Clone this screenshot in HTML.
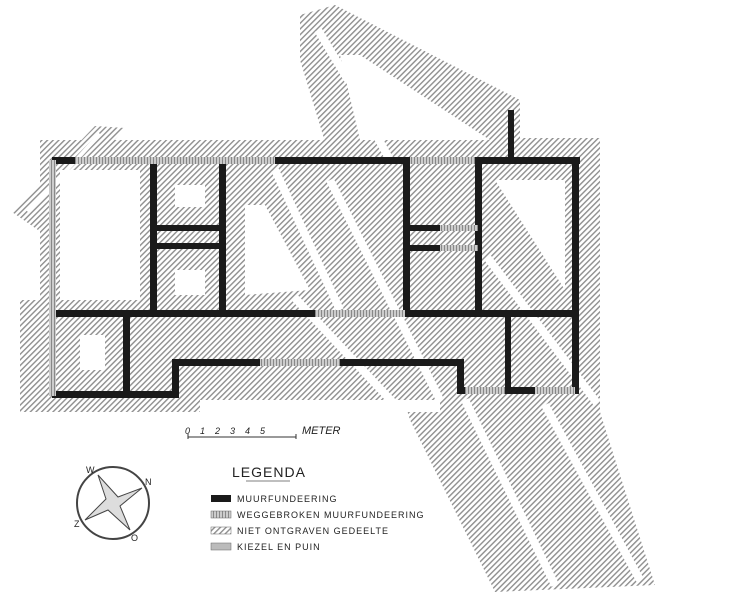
<!DOCTYPE html>
<html><head><meta charset="utf-8"><style>
html,body{margin:0;padding:0;background:#fff;}
svg{display:block}
text{font-family:"Liberation Sans",sans-serif;fill:#222}
</style></head><body>
<svg width="733" height="599" viewBox="0 0 733 599" xmlns="http://www.w3.org/2000/svg">
<defs>
<pattern id="h" width="4" height="4" patternUnits="userSpaceOnUse" patternTransform="rotate(45)">
<rect width="4" height="4" fill="#fff"/><rect width="1.4" height="4" fill="#8e8e8e"/>
</pattern>
<pattern id="v" width="3" height="3" patternUnits="userSpaceOnUse">
<rect width="3" height="3" fill="#ccc"/><rect width="1" height="3" fill="#888"/>
</pattern>
</defs>
<rect width="733" height="599" fill="#fff"/>
<g fill="url(#h)">
<polygon points="300,15 335,5 520,100 520,138 600,138 600,412 655,585 495,592 410,420 300,60"/>
<polygon points="40,140 600,140 600,412 440,412 440,400 200,400 200,412 20,412 20,300 40,300"/>
<polygon points="12,212 95,126 125,128 38,230"/>
</g>
<g fill="#fff">
<polygon points="340,55 360,55 490,140 360,140"/>
<rect x="60" y="170" width="80" height="130"/>
<rect x="175" y="185" width="30" height="22"/>
<rect x="175" y="270" width="30" height="25"/>
<rect x="80" y="335" width="25" height="35"/>
<polygon points="245,205 265,205 310,290 245,295"/>
<polygon points="495,180 565,180 565,290"/>
<polygon points="200,400 440,400 440,412 200,412"/>
</g>
<g stroke="#fff" stroke-width="8" fill="none">
<line x1="275" y1="170" x2="340" y2="310"/>
<line x1="330" y1="180" x2="440" y2="400"/>
<line x1="295" y1="298" x2="400" y2="410"/>
<line x1="487" y1="257" x2="597" y2="403"/>
<line x1="357" y1="100" x2="390" y2="160"/>
<line x1="318" y1="30" x2="348" y2="80"/>
<line x1="465" y1="400" x2="555" y2="585"/>
<line x1="545" y1="405" x2="640" y2="580"/>
</g>
<line x1="28" y1="212" x2="100" y2="134" stroke="#fff" stroke-width="4"/>
<g fill="#1a1a1a">
<rect x="52" y="157" width="528" height="7"/>
<rect x="150" y="160" width="7" height="156"/>
<rect x="219" y="160" width="7" height="156"/>
<rect x="150" y="225" width="76" height="6"/>
<rect x="150" y="243" width="76" height="6"/>
<rect x="52" y="310" width="526" height="7"/>
<rect x="123" y="313" width="7" height="85"/>
<rect x="52" y="391" width="126" height="7"/>
<rect x="172" y="359" width="7" height="39"/>
<rect x="172" y="359" width="291" height="7"/>
<rect x="457" y="359" width="7" height="34"/>
<rect x="457" y="387" width="121" height="7"/>
<rect x="572" y="157" width="7" height="237"/>
<rect x="475" y="157" width="7" height="158"/>
<rect x="508" y="110" width="6" height="50"/>
<rect x="403" y="160" width="7" height="155"/>
<rect x="403" y="225" width="75" height="6"/>
<rect x="403" y="245" width="75" height="6"/>
<rect x="505" y="313" width="6" height="78"/>
</g>
<g fill="url(#v)">
<rect x="75" y="157" width="200" height="7"/>
<rect x="410" y="157" width="65" height="7"/>
<rect x="49" y="160" width="7" height="236"/>
<rect x="440" y="225" width="38" height="6"/>
<rect x="440" y="245" width="38" height="6"/>
<rect x="315" y="310" width="90" height="7"/>
<rect x="260" y="359" width="80" height="7"/>
<rect x="465" y="387" width="40" height="7"/>
<rect x="535" y="387" width="40" height="7"/>
</g>
<g stroke="#333" stroke-width="1">
<line x1="188" y1="437" x2="296" y2="437"/>
<line x1="188" y1="434" x2="188" y2="439"/><line x1="296" y1="434" x2="296" y2="439"/>
</g>
<text x="185" y="434" font-size="9" font-style="italic">0&#160;&#160;&#160;&#160;1&#160;&#160;&#160;&#160;2&#160;&#160;&#160;&#160;3&#160;&#160;&#160;&#160;4&#160;&#160;&#160;&#160;5</text>
<text x="302" y="434" font-size="11" font-style="italic">METER</text>
<circle cx="113" cy="503" r="36" fill="none" stroke="#444" stroke-width="2"/>
<polygon points="98,475 118,497 142,488 120,506 130,530 108,510 85,520 106,499" fill="#ddd" stroke="#444" stroke-width="1"/>
<text x="86" y="473" font-size="9">W</text>
<text x="145" y="485" font-size="9">N</text>
<text x="131" y="541" font-size="9">O</text>
<text x="74" y="527" font-size="9">Z</text>
<text x="232" y="477" font-size="14" letter-spacing="1">LEGENDA</text>
<line x1="246" y1="481" x2="290" y2="481" stroke="#555" stroke-width="0.8"/>
<rect x="211" y="495" width="20" height="7" fill="#1a1a1a"/>
<rect x="211" y="511" width="20" height="7" fill="url(#v)" stroke="#666" stroke-width="0.5"/>
<rect x="211" y="527" width="20" height="7" fill="url(#h)" stroke="#666" stroke-width="0.5"/>
<rect x="211" y="543" width="20" height="7" fill="#bbb" stroke="#666" stroke-width="0.5"/>
<g font-size="9" letter-spacing="1">
<text x="237" y="502">MUURFUNDEERING</text>
<text x="237" y="518">WEGGEBROKEN MUURFUNDEERING</text>
<text x="237" y="534">NIET ONTGRAVEN GEDEELTE</text>
<text x="237" y="550">KIEZEL EN PUIN</text>
</g>
</svg>
</body></html>
